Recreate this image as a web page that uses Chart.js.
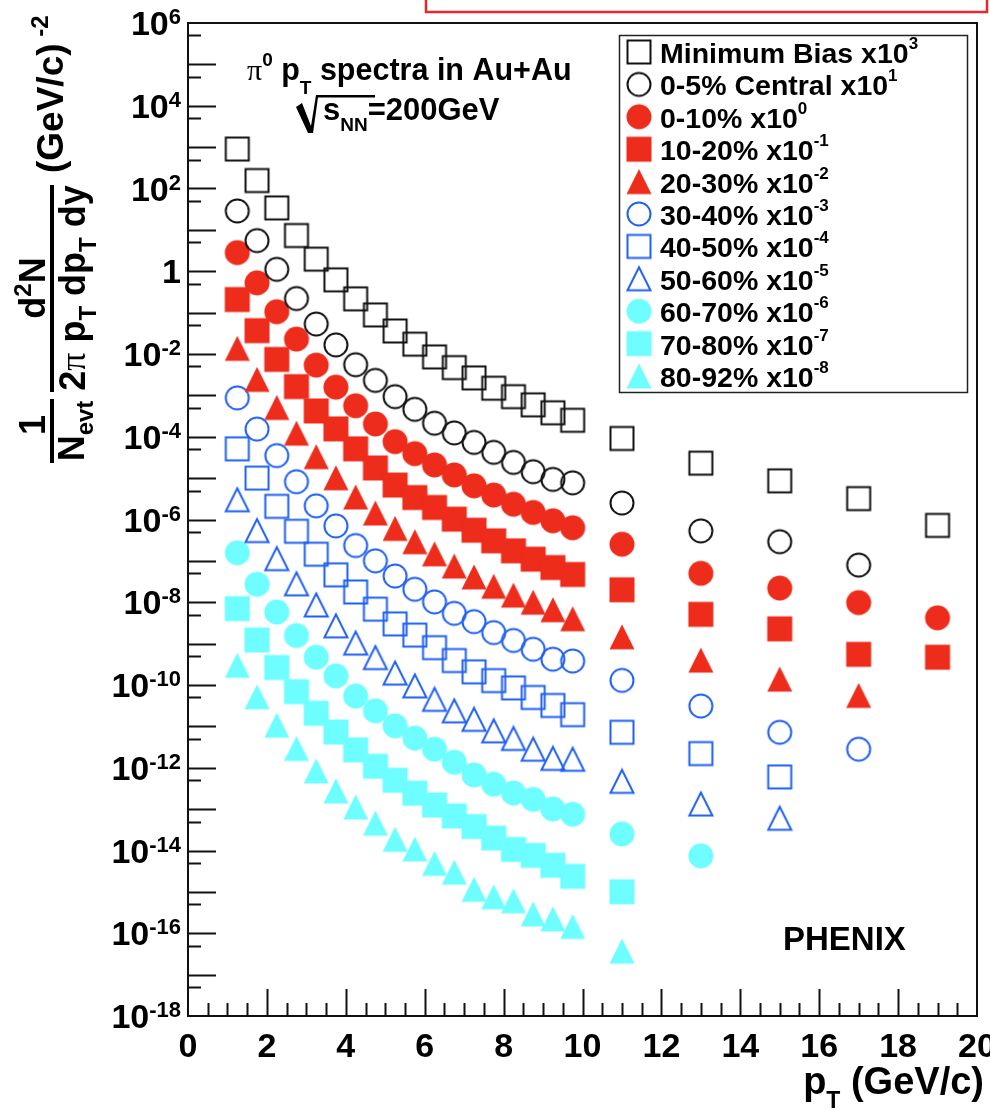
<!DOCTYPE html>
<html>
<head>
<meta charset="utf-8">
<script src="https://cdn.jsdelivr.net/npm/chart.js@4.4.1/dist/chart.umd.min.js"></script>
<style>
  html, body { margin: 0; padding: 0; background: #fff; }
  #spectra { display: block; }
</style>
</head>
<body>
<canvas id="spectra" width="990" height="1110"></canvas>
<script>
// pT bin centres (GeV/c)
const pt = [1.25, 1.75, 2.25, 2.75, 3.25, 3.75, 4.25, 4.75, 5.25, 5.75, 6.25, 6.75, 7.25, 7.75, 8.25, 8.75, 9.25, 9.75, 11, 13, 15, 17, 19];

// scaled yields as plotted
const minBias = [9.0e2, 1.56e2, 3.4e1, 7.3, 1.96, 6.2e-1, 2.15e-1, 8.8e-2, 3.6e-2, 1.73e-2, 8.5e-3, 4.7e-3, 2.64e-3, 1.49e-3, 9.3e-4, 5.9e-4, 3.8e-4, 2.5e-4, 9.1e-5, 2.3e-5, 8.6e-6, 3.2e-6, 7.2e-7];
const cent0005 = [28.6, 5.5, 1.11, 0.219, 5.3e-2, 1.66e-2, 5.5e-3, 2.3e-3, 9.3e-4, 4.6e-4, 2.12e-4, 1.24e-4, 7.3e-5, 4.2e-5, 2.4e-5, 1.43e-5, 9.3e-6, 7.7e-6, 2.5e-6, 5.3e-7, 2.9e-7, 7.9e-8];
const cent0010 = [2.82, 0.524, 0.105, 2.29e-2, 5.4e-3, 1.58e-3, 5.6e-4, 2.04e-4, 7.6e-5, 3.9e-5, 2.08e-5, 1.19e-5, 6.5e-6, 3.9e-6, 2.34e-6, 1.48e-6, 9.3e-7, 6.3e-7, 2.53e-7, 5.0e-8, 2.2e-8, 9.8e-9, 4.2e-9];
const cent1020 = [0.207, 3.66e-2, 7.4e-3, 1.63e-3, 4.2e-4, 1.55e-4, 5.1e-5, 1.76e-5, 6.8e-6, 3.4e-6, 1.95e-6, 1.02e-6, 5.5e-7, 3.05e-7, 1.75e-7, 1.10e-7, 6.9e-8, 4.7e-8, 2.0e-8, 5.1e-9, 2.28e-9, 5.5e-10, 4.7e-10];
const cent2030 = [1.37e-2, 2.43e-3, 5.1e-4, 1.22e-4, 3.3e-5, 1.02e-5, 3.5e-6, 1.44e-6, 6.1e-7, 2.9e-7, 1.48e-7, 7.5e-8, 4.1e-8, 2.43e-8, 1.49e-8, 1.0e-8, 6.6e-9, 4.0e-9, 1.46e-9, 4.0e-10, 1.39e-10, 5.6e-11];
const cent3040 = [8.7e-4, 1.53e-4, 3.5e-5, 8.2e-6, 2.14e-6, 7.0e-7, 2.35e-7, 1.0e-7, 4.3e-8, 2.06e-8, 1.02e-8, 5.4e-9, 3.4e-9, 1.85e-9, 1.19e-9, 7.3e-10, 4.2e-10, 3.8e-10, 1.29e-10, 3.1e-11, 7.2e-12, 2.8e-12];
const cent4050 = [5.1e-5, 1.0e-5, 2.08e-6, 5.2e-7, 1.45e-7, 4.6e-8, 1.77e-8, 6.8e-9, 3.0e-9, 1.61e-9, 8.0e-10, 3.9e-10, 2.08e-10, 1.28e-10, 8.5e-11, 5.0e-11, 3.2e-11, 1.92e-11, 7.2e-12, 2.2e-12, 6.0e-13];
const cent5060 = [3.0e-6, 5.4e-7, 1.13e-7, 2.79e-8, 8.6e-9, 2.69e-9, 1.03e-9, 4.6e-10, 1.94e-10, 9.5e-11, 4.5e-11, 2.37e-11, 1.48e-11, 7.8e-12, 5.1e-12, 2.8e-12, 1.68e-12, 1.6e-12, 4.7e-13, 1.33e-13, 6.0e-14];
const cent6070 = [1.57e-7, 2.72e-8, 5.8e-9, 1.57e-9, 4.7e-10, 1.66e-10, 5.4e-11, 2.37e-11, 1.03e-11, 5.2e-12, 2.8e-12, 1.36e-12, 6.7e-13, 4.0e-13, 2.46e-13, 1.72e-13, 1.01e-13, 7.5e-14, 2.5e-14, 7.4e-15];
const cent7080 = [7.0e-9, 1.22e-9, 2.64e-10, 6.9e-11, 2.07e-11, 7.3e-12, 2.7e-12, 1.09e-12, 5.0e-13, 2.43e-13, 1.26e-13, 6.8e-14, 3.8e-14, 2.0e-14, 1.06e-14, 7.6e-15, 4.4e-15, 2.37e-15, 1.0e-15];
const cent8092 = [3.0e-10, 5.2e-11, 1.07e-11, 2.93e-12, 8.4e-13, 2.75e-13, 1.13e-13, 4.6e-14, 1.87e-14, 1.09e-14, 4.9e-15, 3.0e-15, 1.15e-15, 7.6e-16, 6.1e-16, 2.92e-16, 2.22e-16, 1.46e-16, 3.7e-17];

const seriesValues = [minBias, cent0005, cent0010, cent1020, cent2030, cent3040, cent4050, cent5060, cent6070, cent7080, cent8092];
const seriesNames = ["Minimum Bias", "0-5% Central", "0-10%", "10-20%", "20-30%", "30-40%", "40-50%", "50-60%", "60-70%", "70-80%", "80-92%"];
const scalePowers = ["3", "1", "0", "-1", "-2", "-3", "-4", "-5", "-6", "-7", "-8"];

// axis ticks
const xMajorTicks = [0, 2, 4, 6, 8, 10, 12, 14, 16, 18, 20];
const xMinorStep = 0.5;
const yDecades = [-18, -17, -16, -15, -14, -13, -12, -11, -10, -9, -8, -7, -6, -5, -4, -3, -2, -1, 0, 1, 2, 3, 4, 5, 6];
const yLabelPowers = [6, 4, 2, 0, -2, -4, -6, -8, -10, -12, -14, -16, -18];

// marker look (ROOT style)
const RED = "#ee2c1c", BLUE = "#1f60f4", CYAN = "#6efeff", BLACK = "#111111";
const markerShape = ["square", "circle", "circle", "square", "triangle", "circle", "square", "triangle", "circle", "square", "triangle"];
const markerFilled = [false, false, true, true, true, false, false, false, true, true, true];
const markerColor = [BLACK, BLACK, RED, RED, RED, BLUE, BLUE, BLUE, CYAN, CYAN, CYAN];

const SANS = '"Liberation Sans", Arial, Helvetica, sans-serif';
const SERIF = '"Liberation Serif", "Times New Roman", serif';

function makeMarker(shape, filled, color) {
  const c = document.createElement("canvas");
  c.width = 28; c.height = 28;
  const g = c.getContext("2d");
  const m = 14;
  const h = filled ? 12.5 : 11.5;
  g.fillStyle = color;
  g.strokeStyle = color;
  g.lineWidth = 2;
  g.beginPath();
  if (shape === "square") {
    g.rect(m - h, m - h, 2 * h, 2 * h);
  } else if (shape === "circle") {
    g.arc(m, m, h, 0, Math.PI * 2);
  } else {
    g.moveTo(m - h, m + h);
    g.lineTo(m + h, m + h);
    g.lineTo(m, m - h);
    g.closePath();
  }
  if (filled) g.fill(); else g.stroke();
  return c;
}

const markers = markerShape.map((s, i) => makeMarker(s, markerFilled[i], markerColor[i]));

// text with super/subscripts: runs of {t, font, dy}
function drawRuns(ctx, x, y, runs, align) {
  let total = 0;
  runs.forEach(r => {
    ctx.font = r.font;
    r.w = ctx.measureText(r.t).width;
    total += r.w;
  });
  let cx = align === "right" ? x - total : align === "center" ? x - total / 2 : x;
  ctx.textAlign = "left";
  ctx.textBaseline = "alphabetic";
  runs.forEach(r => {
    ctx.font = r.font;
    ctx.fillText(r.t, cx, y + (r.dy || 0));
    cx += r.w;
  });
}

const bold = px => "bold " + px + "px " + SANS;

const rootStyle = {
  id: "rootStyle",
  beforeDraw(chart) {
    const ctx = chart.ctx;
    ctx.save();
    ctx.fillStyle = "#ffffff";
    ctx.fillRect(0, 0, chart.width, chart.height);
    // cut-off annotation box at the very top
    ctx.strokeStyle = "#e8262b";
    ctx.lineWidth = 2.5;
    ctx.strokeRect(426, -6, 561, 18);
    ctx.restore();
  },
  afterDatasetsDraw(chart) {
    const ctx = chart.ctx;
    const xs = chart.scales.x, ys = chart.scales.y;
    const a = chart.chartArea;
    ctx.save();
    ctx.fillStyle = "#000";
    ctx.strokeStyle = "#111";

    // frame
    ctx.lineWidth = 2;
    ctx.strokeRect(a.left, a.top, a.right - a.left, a.bottom - a.top);

    // y ticks (inside)
    ctx.beginPath();
    yDecades.forEach(e => {
      const y = Math.round(ys.getPixelForValue(Math.pow(10, e))) + 0.5;
      if (e > -18 && e < 6) { ctx.moveTo(a.left, y); ctx.lineTo(a.left + 28, y); }
      const yh = Math.round(ys.getPixelForValue(5 * Math.pow(10, e - 1))) + 0.5;
      if (e > -18) { ctx.moveTo(a.left, yh); ctx.lineTo(a.left + 13, yh); }
    });
    // x ticks (inside)
    for (let v = xMinorStep; v < 20; v += xMinorStep) {
      const x = Math.round(xs.getPixelForValue(v)) + 0.5;
      const len = xMajorTicks.includes(v) ? 27 : 13;
      ctx.moveTo(x, a.bottom); ctx.lineTo(x, a.bottom - len);
    }
    ctx.stroke();

    // y tick labels
    yLabelPowers.forEach(e => {
      const y = ys.getPixelForValue(Math.pow(10, e));
      if (e === 0) drawRuns(ctx, 181, y + 12, [{ t: "1", font: bold(34) }], "right");
      else drawRuns(ctx, 181, y + 12, [{ t: "10", font: bold(34) }, { t: String(e), font: bold(22), dy: -11 }], "right");
    });
    // x tick labels
    ctx.font = bold(34);
    ctx.textAlign = "center";
    xMajorTicks.forEach(v => {
      ctx.fillText(String(v), xs.getPixelForValue(v), 1057);
    });

    // x title
    drawRuns(ctx, 984, 1094, [
      { t: "p", font: bold(38) },
      { t: "T", font: bold(23), dy: 14 },
      { t: " (GeV/c)", font: bold(38) }
    ], "right");

    // y title, rotated
    ctx.save();
    ctx.translate(0, chart.height);
    ctx.rotate(-Math.PI / 2);
    // first fraction 1 / N_evt
    drawRuns(ctx, 685, 45, [{ t: "1", font: bold(36) }], "center");
    ctx.fillRect(647, 50, 64, 4);
    drawRuns(ctx, 679, 84, [{ t: "N", font: bold(36) }, { t: "evt", font: bold(24), dy: 9 }], "center");
    // second fraction
    drawRuns(ctx, 822, 45, [{ t: "d", font: bold(36) }, { t: "2", font: bold(24), dy: -14 }, { t: "N", font: bold(36) }], "center");
    ctx.fillRect(718, 50, 207, 4);
    drawRuns(ctx, 822, 85, [
      { t: "2", font: bold(36) },
      { t: "\u03c0", font: "36px " + SERIF },
      { t: " p", font: bold(36) },
      { t: "T", font: bold(24), dy: 11 },
      { t: " dp", font: bold(36) },
      { t: "T", font: bold(24), dy: 11 },
      { t: " dy", font: bold(36) }
    ], "center");
    drawRuns(ctx, 937, 63, [{ t: "(GeV/c)", font: bold(37) }, { t: " -2", font: bold(24), dy: -15 }], "left");
    ctx.restore();

    // in-plot titles
    drawRuns(ctx, 247, 80, [
      { t: "\u03c0", font: "30px " + SERIF },
      { t: "0", font: bold(19), dy: -14 },
      { t: " p", font: bold(30.5) },
      { t: "T", font: bold(19), dy: 14 },
      { t: " spectra in Au+Au", font: bold(30.5) }
    ], "left");
    // sqrt sign
    ctx.beginPath();
    ctx.moveTo(296, 107); ctx.lineTo(302, 103); ctx.lineTo(311, 126);
    ctx.lineTo(316, 95); ctx.lineTo(375, 95); ctx.lineTo(375, 97.5); ctx.lineTo(318, 97.5);
    ctx.lineTo(313, 133); ctx.lineTo(308, 133); ctx.closePath();
    ctx.fill();
    drawRuns(ctx, 323, 120, [
      { t: "s", font: bold(31) },
      { t: "NN", font: bold(19), dy: 11 },
      { t: "=200GeV", font: bold(31) }
    ], "left");
    ctx.font = bold(33);
    ctx.textAlign = "left";
    ctx.fillText("PHENIX", 783, 950);

    // legend
    ctx.lineWidth = 1.5;
    ctx.strokeStyle = "#222";
    ctx.strokeRect(619.5, 35.5, 348, 357);
    seriesNames.forEach((name, i) => {
      const cy = 52 + i * 32.4;
      ctx.drawImage(markers[i], 639 - 14, cy - 14);
      drawRuns(ctx, 660, cy + 11, [
        { t: name + " x10", font: bold(28.5) },
        { t: scalePowers[i], font: bold(17), dy: -14 }
      ], "left");
    });
    ctx.restore();
  }
};

const datasets = seriesValues.map((vals, i) => ({
  label: seriesNames[i] + " x10^" + scalePowers[i],
  data: vals.map((v, j) => ({ x: pt[j], y: v })),
  pointStyle: markers[i],
  pointRadius: 12,
  showLine: false
}));

new Chart(document.getElementById("spectra"), {
  type: "scatter",
  data: { datasets },
  options: {
    responsive: false,
    animation: false,
    devicePixelRatio: 1,
    layout: { padding: { left: 188, right: 5, top: 23, bottom: 94 } },
    scales: {
      x: { type: "linear", min: 0, max: 20, display: false },
      y: { type: "logarithmic", min: 1e-18, max: 1e6, display: false }
    },
    plugins: {
      legend: { display: false },
      tooltip: { enabled: false }
    }
  },
  plugins: [rootStyle]
});
</script>
</body>
</html>
